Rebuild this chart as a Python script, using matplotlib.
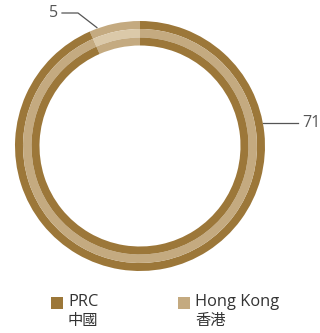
import matplotlib
matplotlib.use("Agg")
import matplotlib.pyplot as plt
from matplotlib.patches import Rectangle
import numpy as np

regions = ["Hong Kong", "PRC"]
regions_zh = ["香港", "中國"]
values = [5, 71]
labels = ["5", "71"]

dark = "#9c7739"
tan = "#c4aa80"
pale = "#dbc9a9"
text_gray = "#555555"
text_dark = "#333333"

W, H = 320, 333
fig = plt.figure(figsize=(W / 100, H / 100), dpi=100)
ax = fig.add_axes([0, 0, 1, 1])

cx, cy = 140, H - 146
R = 125
bands = [
    (R, 8.0, [tan, dark]),
    (R - 8.0, 8.5, [pale, tan]),
    (R - 16.5, 8.0, [tan, dark]),
]
for radius, width, cols in bands:
    ax.pie(values, radius=radius, center=(cx, cy), startangle=90,
           counterclock=True, colors=cols,
           wedgeprops=dict(width=width, linewidth=0, antialiased=True))

ax.set_xlim(0, W)
ax.set_ylim(0, H)
ax.set_aspect("auto")
ax.axis("off")

fp = ["Open Sans", "Noto Sans CJK TC", "DejaVu Sans"]

# leader for the Hong Kong slice
a = np.deg2rad(110)
p0 = (cx + (R + 1) * np.cos(a), cy + (R + 1) * np.sin(a))
ax.plot([62, 78, p0[0]], [H - 13, H - 13, p0[1]], color="#555555", lw=0.9)
ax.text(58, H - 13, labels[0], ha="right", va="center", fontsize=11.5,
        color=text_gray, family=fp)

# leader for the PRC slice
yy = 123
x_edge = cx + np.sqrt(R ** 2 - (146 - yy) ** 2)
ax.plot([x_edge, 298], [H - yy, H - yy], color="#555555", lw=0.9)
ax.text(302, H - yy, labels[1], ha="left", va="center", fontsize=11.5,
        color=text_gray, family=fp)

# legend
legend_cols = {"PRC": dark, "Hong Kong": tan}
legend_x = [51, 178]
order = [1, 0]
for lx, i in zip(legend_x, order):
    ax.add_patch(Rectangle((lx, H - 309), 12, 12, color=legend_cols[regions[i]],
                           linewidth=0))
    ax.text(lx + 17, H - 302.5, regions[i], ha="left", va="center",
            fontsize=11.8, color=text_dark, family=fp)
    ax.text(lx + 17, H - 321.5, regions_zh[i], ha="left", va="center",
            fontsize=11, color=text_dark, family=fp)

fig.savefig("out.png", dpi=100)
